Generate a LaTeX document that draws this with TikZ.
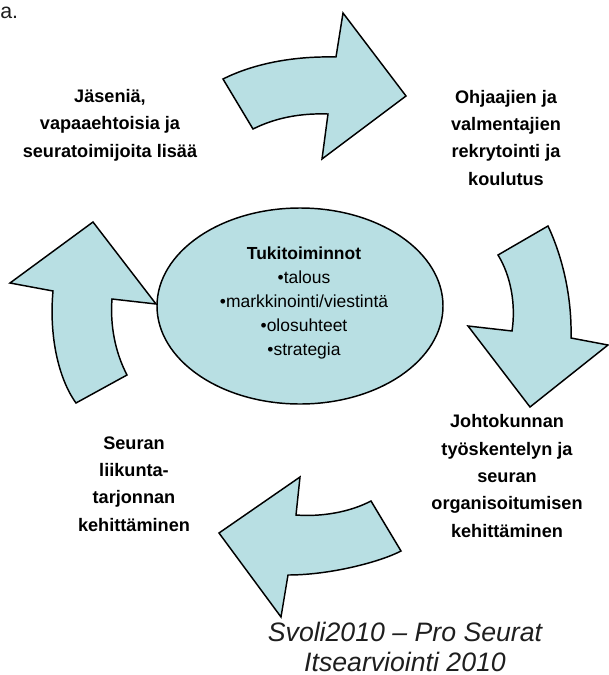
\documentclass[tikz,border=0pt]{standalone}
\usepackage{fontspec}
\setmainfont{Liberation Sans}
\usepackage{tikz}
\usetikzlibrary{positioning,shapes.geometric}
\definecolor{vaalea}{RGB}{184,223,227}
\definecolor{harmaa}{RGB}{30,30,30}

\begin{document}
\begin{tikzpicture}[x=0.75pt, y=-0.75pt,
  nuoli/.style={fill=vaalea, draw=black, line width=1.1pt, line join=miter},
  pallo/.style={ellipse, fill=vaalea, draw=black, line width=1.1pt, inner sep=0pt,
    minimum width=214.5pt, minimum height=147pt},
  otsikko/.style={font=\fontsize{13.6}{20.5}\selectfont\bfseries, align=center, anchor=base, inner sep=0pt},
  sisalto/.style={font=\fontsize{13.1}{18}\selectfont, align=center, anchor=base, inner sep=0pt},
  lahde/.style={font=\fontsize{20}{22.2}\selectfont\itshape, text=harmaa, align=center, anchor=base, inner sep=0pt}]
\useasboundingbox (0,0) rectangle (609,675);

\node[font=\fontsize{16}{18}\selectfont, text=harmaa, anchor=base west, inner sep=0pt] (aa) at (0,18) {a.};

\filldraw[nuoli] (223,79) .. controls (255,63) and (295,56) .. (336,57) -- (343,13) -- (406,96) -- (322,159)
  -- (328,114) .. controls (300,113) and (275,118) .. (253,129) -- cycle;
\filldraw[nuoli] (548,226) .. controls (563,258) and (572,298) .. (571,338) -- (608,345) -- (530,407) -- (468,326)
  -- (512,331) .. controls (516,305) and (511,276) .. (498,255) -- cycle;
\filldraw[nuoli] (401,551) .. controls (380,562) and (330,575) .. (288,575) -- (281,617) -- (219,533) -- (300,477)
  -- (296,515) .. controls (322,517) and (350,512) .. (371,501) -- cycle;
\filldraw[nuoli] (76,403) .. controls (58,378) and (49,335) .. (53,291) -- (10,283) -- (93,222) -- (156,304)
  -- (112,299) .. controls (110,325) and (115,352) .. (127,375) -- cycle;

\node[pallo] (tuki) at (300,306) {};
\node[sisalto] (tukiteksti) at (304,355) {\textbf{Tukitoiminnot}\\\textbullet talous\\\textbullet markkinointi/viestintä\\\textbullet olosuhteet\\\textbullet strategia};

\node[otsikko] (jasenet) at (110,157) {Jäseniä,\\vapaaehtoisia ja\\seuratoimijoita lisää};
\node[otsikko] (ohjaajat) at (506,185) {Ohjaajien ja\\valmentajien\\rekrytointi ja\\koulutus};
\node[otsikko] (johtokunta) at (507,537) {Johtokunnan\\työskentelyn ja\\seuran\\organisoitumisen\\kehittäminen};
\node[otsikko] (liikunta) at (134,531) {Seuran\\liikunta-\\tarjonnan\\kehittäminen};

\node[lahde] (svoli) at (405,671) {Svoli2010 – Pro Seurat\\Itsearviointi 2010};
\end{tikzpicture}
\end{document}
